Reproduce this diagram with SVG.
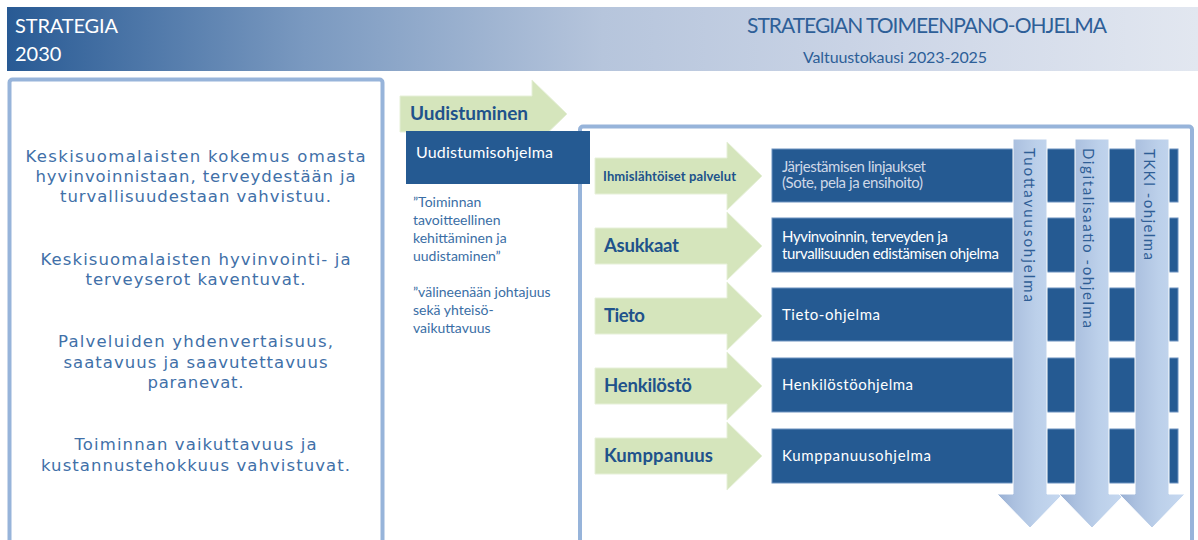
<svg xmlns="http://www.w3.org/2000/svg" width="1198" height="540" viewBox="0 0 1198 540">
  <defs>
    <linearGradient id="hdr" x1="0" y1="0" x2="1" y2="0">
      <stop offset="0" stop-color="#285a94"/>
      <stop offset="0.25" stop-color="#7a99c0"/>
      <stop offset="0.5" stop-color="#b6c5dc"/>
      <stop offset="0.75" stop-color="#cdd6e7"/>
      <stop offset="1" stop-color="#e2e7f0"/>
    </linearGradient>
    <linearGradient id="varrow" x1="0" y1="0" x2="1" y2="0">
      <stop offset="0" stop-color="#98afd3"/>
      <stop offset="0.25" stop-color="#abc0df"/>
      <stop offset="0.6" stop-color="#bcd0ea"/>
      <stop offset="1" stop-color="#c6d8f0"/>
    </linearGradient>
    <path id="garrow" d="M0,-18 H132 V-34 L167,0 L132,34 V18 H0 Z"/>
    <path id="darrow" d="M-17,0 V355 H-33 L0,389 L33,355 H17 V0 Z"/>
  </defs>
  <style>
    .f { font-family: Lato, "Liberation Sans", sans-serif; }
    .goal { font-family: "DejaVu Sans", "Liberation Sans", sans-serif; font-size: 16.5px; fill: #4170a8; text-anchor: middle; }
    .quote { font-size: 14px; fill: #3a6ea5; }
    .frame { fill: none; stroke: #97b4da; stroke-width: 4; }
    .green { fill: #d5e5bc; stroke: #e6f0d8; stroke-width: 1; }
    .lbl { font-weight: bold; fill: #20528b; }
    .box { fill: #255a92; stroke: #6d92c0; stroke-width: 1; }
    .btxt { font-size: 15px; fill: #ffffff; }
    .dim { fill: #cfd8e7; }
    .down { fill: url(#varrow); stroke: #ffffff; stroke-width: 1; }
    .vtxt { font-size: 15px; fill: #2f5e96; }
  </style>

  <rect width="1198" height="540" fill="#ffffff"/>

  <!-- Header -->
  <g id="header">
    <rect x="7" y="7" width="1191" height="64" fill="url(#hdr)"/>
    <text class="f" x="15" y="33" font-size="20" fill="#ffffff" textLength="103">STRATEGIA</text>
    <text class="f" x="15" y="61" font-size="20" fill="#ffffff">2030</text>
    <text class="f" x="747" y="33" font-size="21" fill="#2e5f98" textLength="360">STRATEGIAN TOIMEENPANO-OHJELMA</text>
    <text class="f" x="803" y="63" font-size="16" fill="#2e5f98" textLength="184">Valtuustokausi  2023-2025</text>
  </g>

  <!-- Left strategy goals -->
  <g id="goals">
    <rect class="frame" x="9.5" y="79.5" width="373" height="480" rx="3" fill="#ffffff"/>
    <text class="goal" x="195.5" y="162" textLength="340">Keskisuomalaisten kokemus omasta</text>
    <text class="goal" x="195.5" y="181.5" textLength="320">hyvinvoinnistaan, terveydestään ja</text>
    <text class="goal" x="195.5" y="201.5" textLength="271">turvallisuudestaan vahvistuu.</text>
    <text class="goal" x="195.5" y="265" textLength="310">Keskisuomalaisten hyvinvointi- ja</text>
    <text class="goal" x="195.5" y="285" textLength="220">terveyserot kaventuvat.</text>
    <text class="goal" x="195.5" y="347" textLength="275">Palveluiden yhdenvertaisuus,</text>
    <text class="goal" x="195.5" y="367.5" textLength="264">saatavuus ja saavutettavuus</text>
    <text class="goal" x="195.5" y="388" textLength="96">paranevat.</text>
    <text class="goal" x="195.5" y="450" textLength="242">Toiminnan vaikuttavuus ja</text>
    <text class="goal" x="195.5" y="470.5" textLength="309">kustannustehokkuus vahvistuvat.</text>
  </g>

  <!-- Right frame -->
  <g id="program-frame">
    <rect class="frame" x="580" y="126.5" width="612" height="440" rx="3"/>
  </g>

  <!-- Renewal -->
  <g id="renewal">
    <use href="#garrow" class="green" transform="translate(400,114)"/>
    <text class="f lbl" x="410" y="120" font-size="19" fill="#1f4e84" textLength="118">Uudistuminen</text>
    <rect x="406" y="131" width="184" height="53" fill="#255a92"/>
    <text class="f" x="416" y="158" font-size="16" fill="#ffffff" textLength="137">Uudistumisohjelma</text>
    <text class="f quote" x="413" y="207">”Toiminnan</text>
    <text class="f quote" x="413" y="225">tavoitteellinen</text>
    <text class="f quote" x="413" y="243">kehittäminen ja</text>
    <text class="f quote" x="413" y="261">uudistaminen”</text>
    <text class="f quote" x="413" y="297">”välineenään johtajuus</text>
    <text class="f quote" x="413" y="315">sekä yhteisö-</text>
    <text class="f quote" x="413" y="333">vaikuttavuus</text>
  </g>

  <!-- Rows -->
  <g id="row-ihmislahtoiset">
    <use href="#garrow" class="green" transform="translate(595,176)"/>
    <text class="f lbl" x="603" y="181" font-size="13" textLength="133">Ihmislähtöiset palvelut</text>
    <rect class="box" x="772" y="149" width="406" height="53"/>
    <text class="f btxt dim" x="782" y="172" textLength="144">Järjestämisen linjaukset</text>
    <text class="f btxt dim" x="782" y="188" textLength="141">(Sote, pela ja ensihoito)</text>
  </g>
  <g id="row-asukkaat">
    <use href="#garrow" class="green" transform="translate(595,246)"/>
    <text class="f lbl" x="604" y="252" font-size="18.5" textLength="75">Asukkaat</text>
    <rect class="box" x="772" y="218" width="406" height="54"/>
    <text class="f btxt" x="782" y="242" textLength="166">Hyvinvoinnin,  terveyden ja</text>
    <text class="f btxt" x="782" y="259" textLength="217">turvallisuuden edistämisen ohjelma</text>
  </g>
  <g id="row-tieto">
    <use href="#garrow" class="green" transform="translate(595,316)"/>
    <text class="f lbl" x="604" y="322" font-size="18.5" textLength="41">Tieto</text>
    <rect class="box" x="772" y="288" width="406" height="53"/>
    <text class="f btxt" x="782" y="320" textLength="98">Tieto-ohjelma</text>
  </g>
  <g id="row-henkilosto">
    <use href="#garrow" class="green" transform="translate(595,386)"/>
    <text class="f lbl" x="604" y="392" font-size="18.5" textLength="88">Henkilöstö</text>
    <rect class="box" x="772" y="358" width="406" height="54"/>
    <text class="f btxt" x="782" y="390" textLength="131">Henkilöstöohjelma</text>
  </g>
  <g id="row-kumppanuus">
    <use href="#garrow" class="green" transform="translate(595,456)"/>
    <text class="f lbl" x="604" y="462" font-size="18.5" textLength="109">Kumppanuus</text>
    <rect class="box" x="772" y="429" width="406" height="54"/>
    <text class="f btxt" x="782" y="461" textLength="149">Kumppanuusohjelma</text>
  </g>

  <!-- Cross-cutting programmes -->
  <g id="tuottavuus">
    <use href="#darrow" class="down" transform="translate(1030,139)"/>
    <text class="f vtxt" transform="translate(1024,148) rotate(90)" textLength="154">Tuottavuusohjelma</text>
  </g>
  <g id="digitalisaatio">
    <use href="#darrow" class="down" transform="translate(1092,139)"/>
    <text class="f vtxt" transform="translate(1083,148) rotate(90)" textLength="180">Digitalisaatio -ohjelma</text>
  </g>
  <g id="tkki">
    <use href="#darrow" class="down" transform="translate(1152,139)"/>
    <text class="f vtxt" transform="translate(1144,149) rotate(90)" textLength="111">TKKI -ohjelma</text>
  </g>

  <g id="connectors"/>
</svg>
